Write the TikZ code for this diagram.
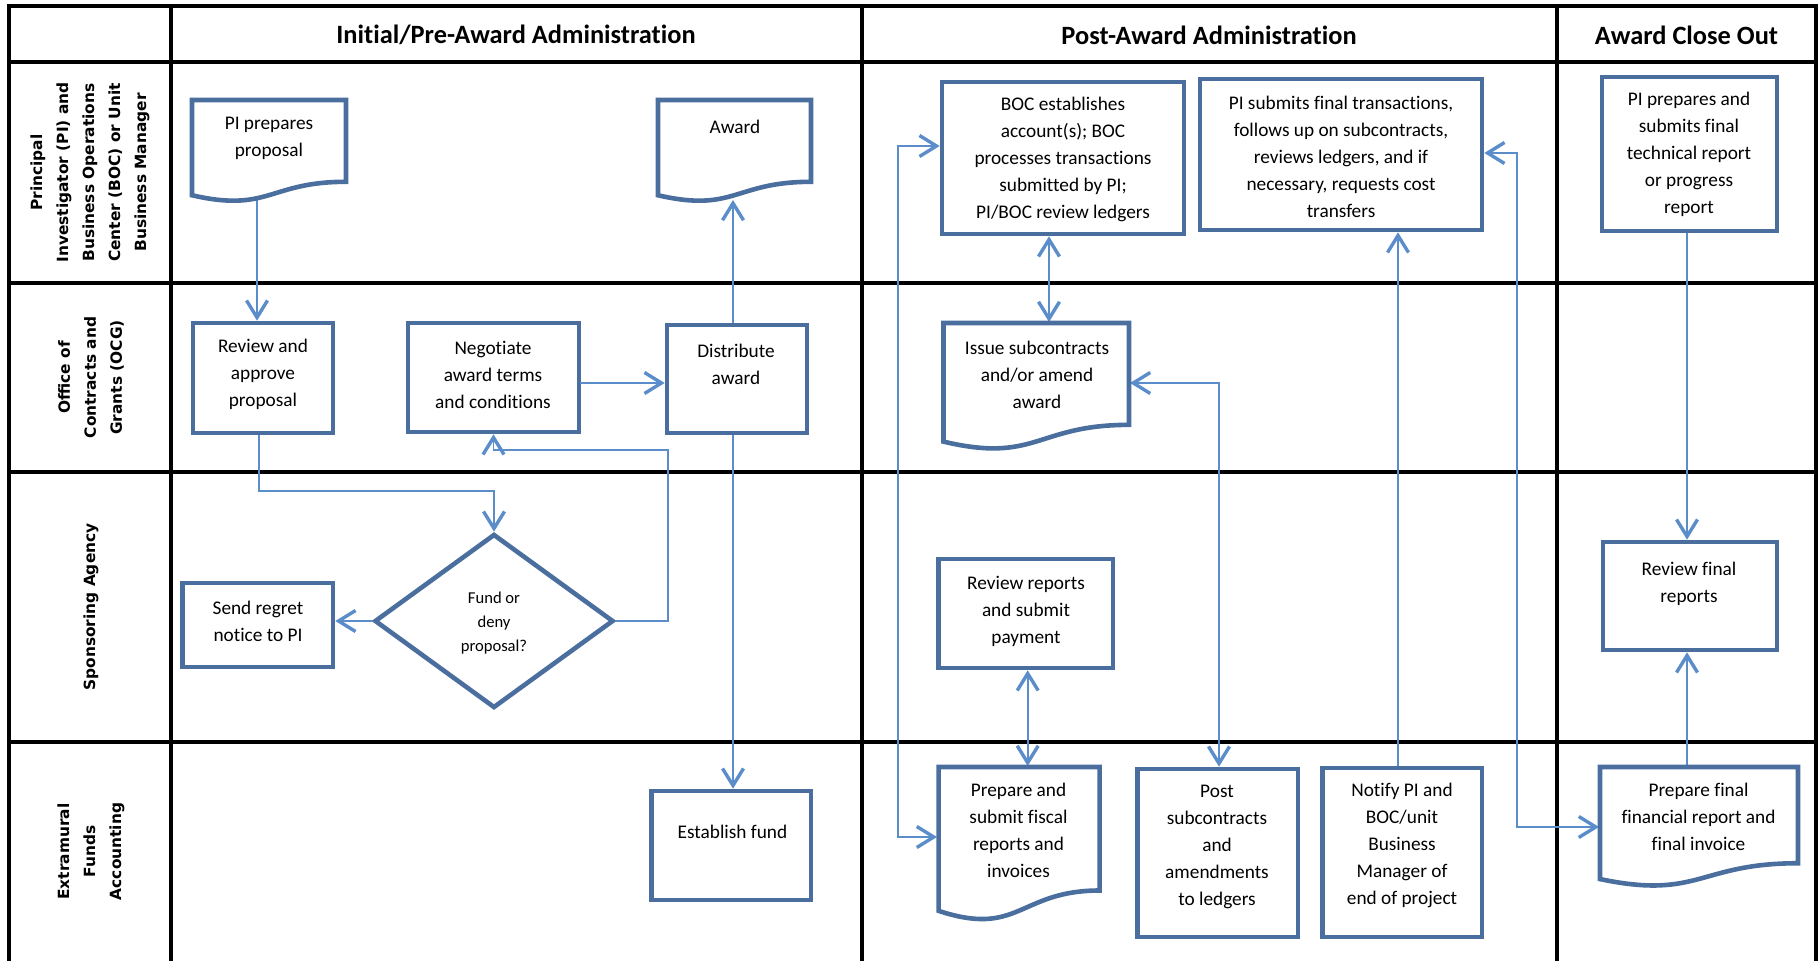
\documentclass[tikz,border=0pt]{standalone}
\usepackage{fontspec}
\setmainfont{Carlito}[Ligatures=NoCommon]
\newfontfamily\lanefont{DejaVu Sans}
\usetikzlibrary{arrows.meta,shapes.geometric,calc}
\definecolor{boxc}{HTML}{4A6F9F}
\definecolor{connc}{HTML}{5B8DCB}
\tikzset{
  gridline/.style={line width=2pt, black},
  boxline/.style={draw=boxc, line width=2.3pt},
  flowbox/.style={boxline, fill=white, rectangle, inner sep=0pt},
  conn/.style={draw=connc, line width=0.9pt},
  bodytxt/.style={align=center, inner sep=0pt, font=\fontsize{9.65pt}{13.5pt}\selectfont},
  headtxt/.style={inner sep=0pt, font=\fontsize{13.2pt}{16pt}\selectfont\bfseries},
  lanetxt/.style={rotate=90, align=center, inner sep=0pt, font=\lanefont\bfseries\fontsize{7.7pt}{13pt}\selectfont}
}
\newcommand{\docpath}[4]{\draw[boxline, fill=white] (#1,#2) -- ({#1+#3},#2) -- ({#1+#3},{#2+0.802*#4}) .. controls ({#1+0.5*#3},{#2+0.802*#4}) and ({#1+0.5*#3},{#2+1.1075*#4}) .. (#1,{#2+0.934*#4}) -- cycle;}
\begin{document}
\begin{tikzpicture}[x=0.5pt,y=-0.5pt,>={Straight Barb[length=8.5pt,width=10.5pt,line width=1.7pt]}]
\useasboundingbox (0,0) rectangle (1819,961);
% grid
\draw[gridline] (1816,961) -- (1816,6) -- (9,6) -- (9,961);
\draw[gridline] (170.5,6) -- (170.5,961);
\draw[gridline] (862,6) -- (862,961);
\draw[gridline] (1557,6) -- (1557,961);
\foreach \yy in {62,283,472,742} \draw[gridline] (9,\yy) -- (1816,\yy);
% headers
\node[headtxt] (h1) at (516,35) {Initial/Pre-Award Administration};
\node[headtxt] (h2) at (1209,35) {Post-Award Administration};
\node[headtxt] (h3) at (1686.5,35) {Award Close Out};
% lanes
\node[lanetxt] (l1) at (90,172.5) {Principal\\Investigator (PI) and\\Business Operations\\Center (BOC) or Unit\\Business Manager};
\node[lanetxt] (l2) at (91,377.5) {Office of\\Contracts and\\Grants (OCG)};
\node[lanetxt] (l3) at (91,607) {Sponsoring Agency};
\node[lanetxt] (l4) at (91,851.5) {Extramural\\Funds\\Accounting};
% boxes
\node[flowbox, minimum width=70pt, minimum height=55pt] (rev) at (263,378) {};
\node[flowbox, minimum width=85.5pt, minimum height=54.5pt] (neg) at (493.5,377.5) {};
\node[flowbox, minimum width=70pt, minimum height=54pt] (dist) at (737,379) {};
\node[flowbox, minimum width=75.25pt, minimum height=42pt] (reg) at (257.75,625) {};
\node[flowbox, diamond, minimum width=119.5pt, minimum height=87pt] (dia) at (494,621) {};
\node[flowbox, minimum width=121pt, minimum height=76pt] (boc) at (1063,158) {};
\node[flowbox, minimum width=141pt, minimum height=75.5pt] (pis) at (1341,154.5) {};
\node[flowbox, minimum width=87.5pt, minimum height=77pt] (pif) at (1689.5,154) {};
\node[flowbox, minimum width=87.2pt, minimum height=54.5pt] (rr) at (1025.8,613.5) {};
\node[flowbox, minimum width=87pt, minimum height=54pt] (rf) at (1690,596) {};
\node[flowbox, minimum width=79.75pt, minimum height=54.5pt] (est) at (731.25,845.5) {};
\node[flowbox, minimum width=80.2pt, minimum height=84pt] (post) at (1217.8,853) {};
\node[flowbox, minimum width=79.75pt, minimum height=84.5pt] (ntf) at (1402.25,852.5) {};
% connectors
\coordinate (pipB) at (257,192);
\draw[conn,->] (pipB) -- (pipB |- rev.north);
\coordinate (c2) at (259,491);
\draw[conn,->] (c2 |- rev.south) -- (c2) -| (dia.north);
\coordinate (c4) at (668,450);
\draw[conn,->] (dia.east) -| (c4) -| (neg.south);
\draw[conn,->] (dia.west) -- (dia.west -| reg.east);
\coordinate (c5) at (580,383);
\draw[conn,->] (c5) -- (c5 -| dist.west);
\coordinate (awB) at (733,200);
\draw[conn,->] (awB |- dist.north) -- (awB);
\draw[conn,->] (awB |- dist.south) -- (awB |- est.north);
\coordinate (c8) at (1049,322);
\draw[conn,<->] (c8 |- boc.south) -- (c8);
\coordinate (c9) at (1130,383);
\coordinate (c9b) at (1219,383);
\draw[conn,<->] (c9) -| (c9b |- post.north);
\coordinate (c10) at (1027.7,766);
\draw[conn,<->] (c10 |- rr.south) -- (c10);
\coordinate (c11a) at (898,146);
\coordinate (c11b) at (937,837);
\draw[conn,<->] (c11a -| boc.west) -- (c11a) |- (c11b);
\coordinate (c12) at (1398,500);
\draw[conn,->] (c12 |- ntf.north) -- (c12 |- pis.south);
\coordinate (c13a) at (1517,153);
\coordinate (c13b) at (1599,827);
\draw[conn,<->] (c13a -| pis.east) -- (c13a) |- (c13b);
\coordinate (c14) at (1687,766);
\draw[conn,->] (c14 |- pif.south) -- (c14 |- rf.north);
\draw[conn,->] (c14) -- (c14 |- rf.south);
% document shapes
\docpath{192}{100}{154}{102}
\docpath{658}{100}{153}{102}
\docpath{943.5}{323}{185.5}{127}
\docpath{938.6}{767}{161}{154}
\docpath{1600}{767}{198}{120}
% texts
\node[bodytxt] (pip-t) at (269,138.5) {PI prepares\\proposal};
\node[bodytxt] (aw-t) at (735,127) {Award};
\node[bodytxt] (iss-t) at (1037,375.3) {Issue subcontracts\\and/or amend\\award};
\node[bodytxt] (fis-t) at (1018.5,830.5) {Prepare and\\submit fiscal\\reports and\\invoices};
\node[bodytxt] (ff-t) at (1698.5,817.3) {Prepare final\\financial report and\\final invoice};
\node[bodytxt] (rev-t) at (263,374.5) {Review and\\approve\\proposal};
\node[bodytxt] (neg-t) at (493,374.5) {Negotiate\\award terms\\and conditions};
\node[bodytxt] (dist-t) at (736,364.5) {Distribute\\award};
\node[bodytxt] (reg-t) at (258,621.5) {Send regret\\notice to PI};
\node[bodytxt, font=\fontsize{8.3pt}{12pt}\selectfont] (dia-t) at (494,623) {Fund or\\deny\\proposal?};
\node[bodytxt] (boc-t) at (1063,159.4) {BOC establishes\\account(s); BOC\\processes transactions\\submitted by PI;\\PI/BOC review ledgers};
\node[bodytxt] (pis-t) at (1341,157) {PI submits final transactions,\\follows up on subcontracts,\\reviews ledgers, and if\\necessary, requests cost\\transfers};
\node[bodytxt] (pif-t) at (1689,154.2) {PI prepares and\\submits final\\technical report\\or progress\\report};
\node[bodytxt] (rr-t) at (1026,611) {Review reports\\and submit\\payment};
\node[bodytxt] (rf-t) at (1689,583.5) {Review final\\reports};
\node[bodytxt] (est-t) at (732.5,832) {Establish fund};
\node[bodytxt] (post-t) at (1217,846.6) {Post\\subcontracts\\and\\amendments\\to ledgers};
\node[bodytxt] (ntf-t) at (1402,845.4) {Notify PI and\\BOC/unit\\Business\\Manager of\\end of project};
\end{tikzpicture}
\end{document}
